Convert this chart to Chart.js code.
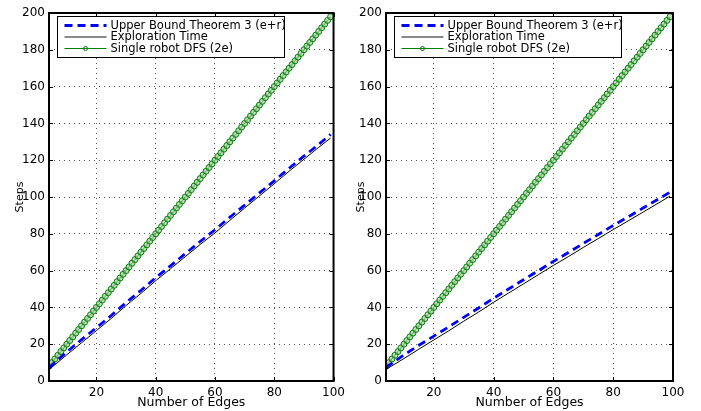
<!DOCTYPE html>
<html>
<head>
<meta charset="utf-8">
<script src="https://cdn.jsdelivr.net/npm/chart.js@4/dist/chart.umd.min.js"></script>
<style>
  html, body { margin: 0; padding: 0; background: #fff; }
  #wrap { position: relative; width: 701px; height: 411px; }
  .panel { position: absolute; top: 0; }
</style>
</head>
<body>
<div id="wrap">
  <div class="panel" style="left:0;width:350px;height:411px"><canvas id="leftChart"></canvas></div>
  <div class="panel" style="left:350px;width:351px;height:411px"><canvas id="rightChart"></canvas></div>
</div>
<script>
// number of edges for the DFS series (one marker per edge count)
const edges = [4, 5, 6, 7, 8, 9, 10, 11, 12, 13, 14, 15, 16, 17, 18, 19, 20, 21, 22, 23,
  24, 25, 26, 27, 28, 29, 30, 31, 32, 33, 34, 35, 36, 37, 38, 39, 40, 41, 42, 43,
  44, 45, 46, 47, 48, 49, 50, 51, 52, 53, 54, 55, 56, 57, 58, 59, 60, 61, 62, 63,
  64, 65, 66, 67, 68, 69, 70, 71, 72, 73, 74, 75, 76, 77, 78, 79, 80, 81, 82, 83,
  84, 85, 86, 87, 88, 89, 90, 91, 92, 93, 94, 95, 96, 97, 98, 99];
// single robot DFS (2e) - same in both panels
const dfsSteps = [8, 10, 12, 14, 16, 18, 20, 22, 24, 26, 28, 30, 32, 34, 36, 38, 40, 42, 44, 46,
  48, 50, 52, 54, 56, 58, 60, 62, 64, 66, 68, 70, 72, 74, 76, 78, 80, 82, 84, 86,
  88, 90, 92, 94, 96, 98, 100, 102, 104, 106, 108, 110, 112, 114, 116, 118, 120, 122, 124, 126,
  128, 130, 132, 134, 136, 138, 140, 142, 144, 146, 148, 150, 152, 154, 156, 158, 160, 162, 164, 166,
  168, 170, 172, 174, 176, 178, 180, 182, 184, 186, 188, 190, 192, 194, 196, 198];

const sampleEdges = [4, 10, 15, 20, 25, 30, 35, 40, 45, 50, 55, 60, 65, 70, 75, 80, 85, 90, 95, 99];

// left panel
const leftExploration = [6.2, 14.2, 20.8, 27.4, 34.0, 41.0, 47.6, 54.5, 61.0, 67.6,
  74.2, 80.5, 87.3, 94.0, 100.6, 107.2, 114.0, 120.5, 127.0, 132.0];
const leftUpperBound = [7.2, 15.8, 22.5, 29.0, 35.6, 42.6, 49.2, 56.2, 62.6, 69.2,
  75.8, 82.2, 89.0, 95.6, 102.2, 108.8, 115.6, 122.2, 128.6, 134.0];

// right panel
const rightExploration = [6.3, 12.2, 17.3, 22.3, 27.3, 32.5, 37.5, 42.8, 47.8, 52.8,
  57.8, 62.8, 67.6, 72.6, 77.4, 82.3, 87.0, 91.8, 96.6, 100.5];
const rightUpperBound = [7.3, 14.2, 19.4, 24.4, 29.4, 34.6, 39.7, 45.0, 50.0, 55.0,
  60.0, 65.0, 69.8, 74.8, 79.6, 84.5, 89.2, 94.0, 98.8, 102.6];

const xTicks = [20, 40, 60, 80, 100];
const seriesLabels = ['Upper Bound Theorem 3 (e+r)', 'Exploration Time', 'Single robot DFS (2e)'];

const FONT = 'DejaVu Sans, Liberation Sans, Arial, sans-serif';

function pairs(xs, ys) {
  return xs.map((x, i) => ({ x: x, y: ys[i] }));
}

// matlab style box, inward ticks and legend
const matlabBox = {
  id: 'matlabBox',
  afterDraw(chart) {
    const ctx = chart.ctx;
    const a = chart.chartArea;
    const xs = chart.scales.x, ys = chart.scales.y;
    ctx.save();
    ctx.strokeStyle = '#000';
    ctx.lineWidth = 1;
    ctx.beginPath();
    xs.ticks.forEach(t => {
      const p = Math.round(xs.getPixelForValue(t.value)) + 0.5;
      ctx.moveTo(p, a.bottom); ctx.lineTo(p, a.bottom - 4);
      ctx.moveTo(p, a.top); ctx.lineTo(p, a.top + 4);
    });
    ys.ticks.forEach(t => {
      const p = Math.round(ys.getPixelForValue(t.value)) + 0.5;
      ctx.moveTo(a.left, p); ctx.lineTo(a.left + 4, p);
      ctx.moveTo(a.right, p); ctx.lineTo(a.right - 4, p);
    });
    ctx.stroke();
    ctx.lineWidth = 2;
    ctx.strokeRect(a.left, a.top, a.right - a.left, a.bottom - a.top);

    // legend
    const bx = Math.round(a.left + 8) + 0.5, by = Math.round(a.top + 3) + 0.5;
    const bw = 227, bh = 41;
    ctx.fillStyle = '#fff';
    ctx.fillRect(bx, by, bw, bh);
    ctx.lineWidth = 1;
    ctx.strokeStyle = '#000';
    ctx.strokeRect(bx, by, bw, bh);
    ctx.font = '11.5px ' + FONT;
    ctx.textBaseline = 'middle';
    chart.data.datasets.forEach((ds, i) => {
      const y = by + 9 + i * 11.5;
      ctx.save();
      ctx.strokeStyle = ds.legendColor || ds.borderColor;
      ctx.lineWidth = ds.legendWidth || ds.borderWidth;
      ctx.setLineDash(ds.borderDash || []);
      ctx.beginPath();
      ctx.moveTo(bx + 7, y);
      ctx.lineTo(bx + 49, y);
      ctx.stroke();
      ctx.setLineDash([]);
      if (ds.pointRadius > 0) {
        ctx.lineWidth = 1;
        ctx.beginPath();
        ctx.arc(bx + 28, y, 2, 0, Math.PI * 2);
        ctx.stroke();
      }
      ctx.restore();
      ctx.fillStyle = '#000';
      ctx.fillText(ds.label, bx + 53, y + 0.5);
    });
    ctx.restore();
  }
};

function buildChart(id, exploration, upperBound, yAxisWidth, rightPad, titlePad) {
  const ctx = document.getElementById(id).getContext('2d');
  return new Chart(ctx, {
    type: 'line',
    data: {
      datasets: [
        {
          label: seriesLabels[0],
          data: pairs(sampleEdges, upperBound),
          borderColor: '#0000ff',
          borderWidth: 2.8,
          borderDash: [8, 5],
          pointRadius: 0,
          fill: false,
          tension: 0
        },
        {
          label: seriesLabels[1],
          data: pairs(sampleEdges, exploration),
          borderColor: '#000000',
          borderWidth: 1,
          legendColor: '#8a8a8a',
          legendWidth: 2,
          pointRadius: 0,
          fill: false,
          tension: 0
        },
        {
          label: seriesLabels[2],
          data: pairs(edges, dfsSteps),
          borderColor: '#008000',
          borderWidth: 1,
          pointStyle: 'circle',
          pointRadius: 3,
          pointBorderWidth: 1,
          pointBorderColor: '#008000',
          pointBackgroundColor: 'rgba(150,195,150,0.6)',
          fill: false,
          tension: 0
        }
      ]
    },
    options: {
      responsive: true,
      maintainAspectRatio: false,
      animation: false,
      layout: { padding: { top: 13, right: rightPad, bottom: 0, left: 0 } },
      plugins: { legend: { display: false }, tooltip: { enabled: false } },
      scales: {
        x: {
          type: 'linear',
          min: 4,
          max: 100,
          afterBuildTicks: s => { s.ticks = xTicks.map(v => ({ value: v })); },
          afterFit: s => { s.height = 30; },
          grid: { color: '#555', drawTicks: false, lineWidth: 1 },
          border: { display: false, dash: [1, 4] },
          ticks: { font: { family: FONT, size: 12 }, color: '#000', padding: 5, maxRotation: 0 },
          title: { display: true, text: 'Number of Edges', font: { family: FONT, size: 12.5 }, color: '#000', padding: { top: 0, bottom: 1 } }
        },
        y: {
          min: 0,
          max: 200,
          ticks: { stepSize: 20, font: { family: FONT, size: 12 }, color: '#000', padding: 4 },
          afterFit: s => { s.width = yAxisWidth; },
          grid: { color: '#555', drawTicks: false, lineWidth: 1 },
          border: { display: false, dash: [1, 4] },
          title: { display: true, text: 'Steps', font: { family: FONT, size: 11 }, color: '#000', padding: { top: titlePad, bottom: 0 } }
        }
      }
    },
    plugins: [matlabBox]
  });
}

buildChart('leftChart', leftExploration, leftUpperBound, 49, 12, 14);
buildChart('rightChart', rightExploration, rightUpperBound, 36, 28, 5);
</script>
</body>
</html>
